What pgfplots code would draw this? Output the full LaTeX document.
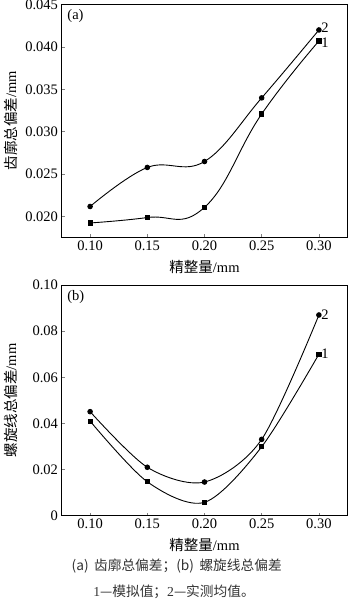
\documentclass[border=0pt]{standalone}
\usepackage{pgfplots}
\pgfplotsset{compat=1.18}
\usepackage{fontspec}
\setmainfont{Liberation Serif}
\newfontfamily\cjk{Noto Sans CJK SC}
\begin{document}
\begin{tikzpicture}
\path[use as bounding box] (0pt,0pt) rectangle (350pt,-602pt);
\pgfplotsset{
  myax/.style={
    scale only axis, width=286pt,
    xmin=0.075, xmax=0.325,
    xtick={0.10,0.15,0.20,0.25,0.30},
    xticklabels={0.10,0.15,0.20,0.25,0.30},
    tick align=inside, tick pos=left, major tick length=3pt,
    axis line style={line width=0.8pt}, tick style={line width=0.7pt},
    ticklabel style={font=\fontsize{14.5}{16}\selectfont},
    /pgf/number format/assume math mode=true,
    label style={font=\fontsize{14.5}{16}\selectfont},
    xlabel={{\cjk 精整量}/mm},
    xlabel style={at={(axis description cs:0.5,-0.128)},anchor=center},
    ylabel style={at={(axis description cs:-0.178,0.5)},anchor=center},
    every axis plot/.append style={black, line width=0.9pt, smooth},
  }
}
\begin{axis}[myax, at={(61.5pt,-237.3pt)}, anchor=south west, height=232.8pt,
  ymin=0.01757, ymax=0.045,
  ytick={0.020,0.025,0.030,0.035,0.040,0.045},
  yticklabels={0.020,0.025,0.030,0.035,0.040,0.045},
  ylabel={{\cjk 齿廓总偏差}/mm},
  xlabel style={at={(axis description cs:0.5,-0.127)}},
]
\addplot[tension=0.75, mark=square*, mark size=2.1pt, mark options={solid}] coordinates {
(0.10,0.01926) (0.15,0.0199) (0.20,0.0211) (0.25,0.0321) (0.30,0.0407)};
\addplot[tension=0.65, mark=*, mark size=2.3pt] coordinates {
(0.10,0.0212) (0.15,0.0258) (0.20,0.0265) (0.25,0.0340) (0.30,0.0420)};
\node[anchor=west, font=\fontsize{14.5}{16}\selectfont, inner sep=0pt] at (axis cs:0.302,0.0423) {2};
\node[anchor=west, font=\fontsize{14.5}{16}\selectfont, inner sep=0pt] at (axis cs:0.302,0.0405) {1};
\node[anchor=west, font=\fontsize{14.5}{16}\selectfont, inner sep=0pt] at (axis description cs:0.02,0.95) {(a)};
\end{axis}
\begin{axis}[myax, at={(61.5pt,-515.7pt)}, anchor=south west, height=230.7pt,
  ymin=0, ymax=0.10,
  ytick={0,0.02,0.04,0.06,0.08,0.10},
  yticklabels={0,0.02,0.04,0.06,0.08,0.10},
  ylabel={{\cjk 螺旋线总偏差}/mm},
]
\addplot[mark=square*, mark size=2.1pt] coordinates {
(0.10,0.041) (0.15,0.0147) (0.20,0.0058) (0.25,0.0299) (0.30,0.070)};
\addplot[mark=*, mark size=2.3pt] coordinates {
(0.10,0.0451) (0.15,0.021) (0.20,0.0146) (0.25,0.0331) (0.30,0.087)};
\node[anchor=west, font=\fontsize{14.5}{16}\selectfont, inner sep=0pt] at (axis cs:0.302,0.087) {2};
\node[anchor=west, font=\fontsize{14.5}{16}\selectfont, inner sep=0pt] at (axis cs:0.302,0.0703) {1};
\node[anchor=west, font=\fontsize{14.5}{16}\selectfont, inner sep=0pt] at (axis description cs:0.02,0.95) {(b)};
\end{axis}
\node[anchor=center, font=\cjk\fontsize{13.7}{15}\selectfont, text=black!80] at (176.7pt,-566pt) {(a)\hspace{0.4em}齿廓总偏差；(b)\hspace{0.4em}螺旋线总偏差};
\node[anchor=center, font=\fontsize{13.7}{15}\selectfont, text=black!80] at (174pt,-591.7pt) {1{\cjk —模拟值；}2{\cjk —实测均值。}};
\end{tikzpicture}
\end{document}
